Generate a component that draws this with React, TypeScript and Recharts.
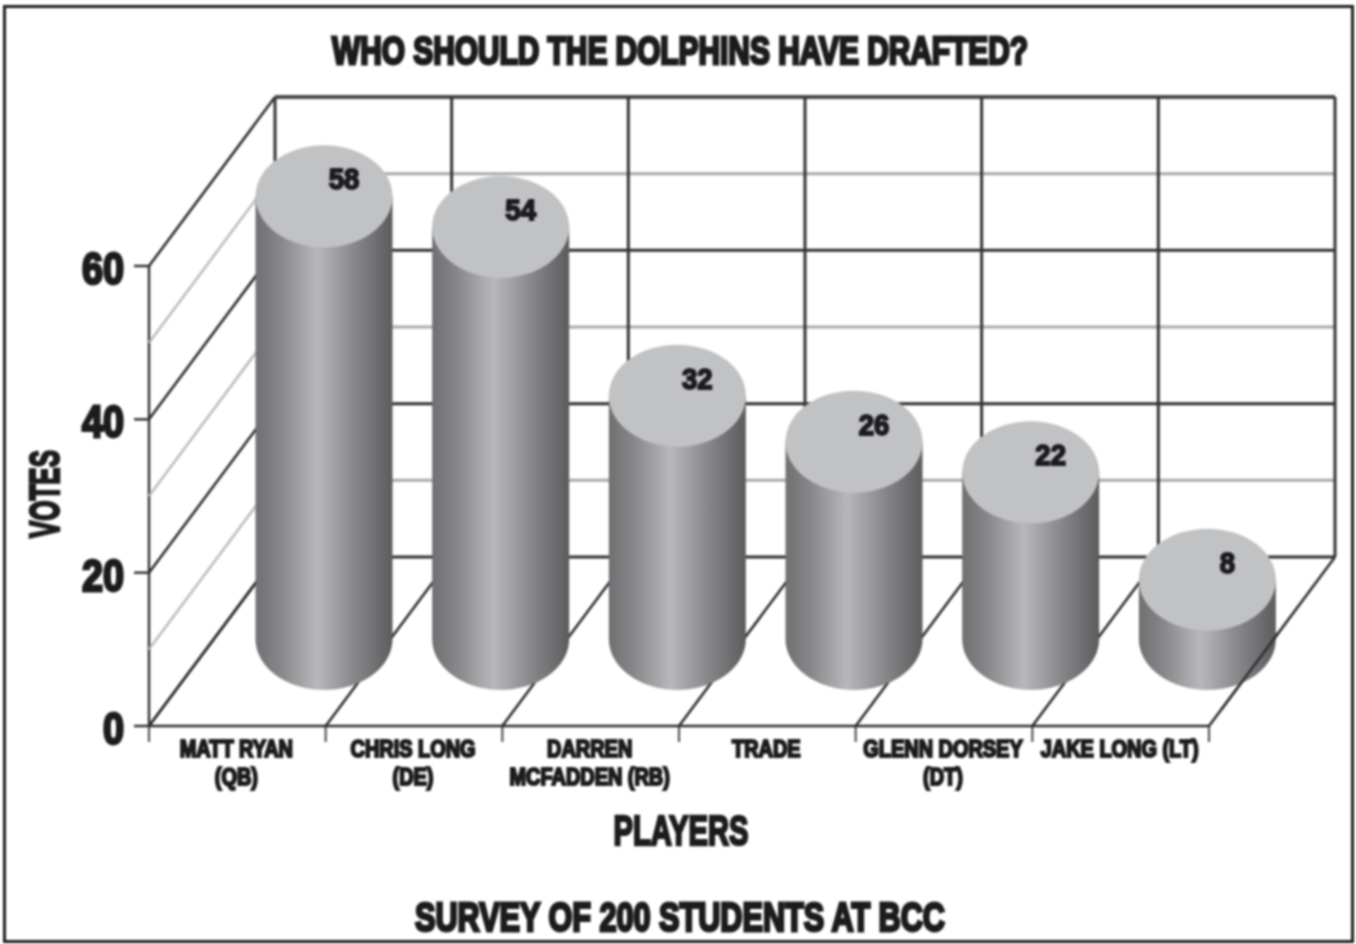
import React from "react";
import { BarChart, Bar, XAxis, YAxis, LabelList, CartesianGrid } from "recharts";

const categories = ["MATT RYAN\n(QB)", "CHRIS LONG\n(DE)", "DARREN\nMCFADDEN (RB)", "TRADE", "GLENN DORSEY\n(DT)", "JAKE LONG (LT)"];
const votes = [58, 54, 32, 26, 22, 8];
const yTicks = [0, 10, 20, 30, 40, 50, 60];
const labelledTicks = [0, 20, 40, 60];
const chartTitle = "WHO SHOULD THE DOLPHINS HAVE DRAFTED?";
const footerText = "SURVEY OF 200 STUDENTS AT BCC";
const xTitle = "PLAYERS";
const yTitle = "VOTES";

const rows = categories.map((name, i) => ({ name, votes: votes[i] }));

const W = 1356, H = 944;
const LEFT = 149, RIGHT = 1209, TOP = 266, BOTTOM = 726;
const BAND = (RIGHT - LEFT) / categories.length;
const WALL_DX = 126, WALL_DY = -169;
const BAR_DX = 86.5, BAR_DY = -87, TOP_DY = -85, RY = 51;
const FONT = "'Liberation Sans', Arial, sans-serif";
const INK = "#1c1c1e";
const DARK = "#2e2e31";
const LIGHT = "#a9a9ab";
const boundaries = categories.map((_, i) => LEFT + BAND * i).concat(RIGHT);

const heavy = (size: number, stroke = 1.2) => ({
  fontFamily: FONT, fontWeight: 700, fontSize: size, fill: INK, stroke: INK, strokeWidth: stroke,
});

function WallRow(props: any) {
  const y = props.y1;
  const v = Math.round(((BOTTOM - y) / (BOTTOM - TOP)) * 60);
  const major = labelledTicks.includes(v);
  return (
    <g key={`row-${v}`}>
      <line x1={LEFT} y1={y} x2={LEFT + WALL_DX} y2={y + WALL_DY} stroke={major ? DARK : "#bdbdbf"} strokeWidth={2.6} />
      <line x1={LEFT + WALL_DX} y1={y + WALL_DY} x2={RIGHT + WALL_DX} y2={y + WALL_DY} stroke={v === 60 ? "#4a4a4d" : major ? DARK : LIGHT} strokeWidth={v === 60 ? 4 : 3} />
      {v === 0 && <line x1={LEFT} y1={TOP} x2={LEFT} y2={BOTTOM} stroke={DARK} strokeWidth={2.4} />}
    </g>
  );
}

function WallColumn(props: any) {
  const bx = props.x1;
  return (
    <g key={`col-${Math.round(bx)}`}>
      <line x1={bx} y1={BOTTOM} x2={bx + WALL_DX} y2={BOTTOM + WALL_DY} stroke={DARK} strokeWidth={2.6} />
      <line x1={bx + WALL_DX} y1={TOP + WALL_DY} x2={bx + WALL_DX} y2={BOTTOM + WALL_DY} stroke="#333336" strokeWidth={3} />
      <line x1={bx} y1={BOTTOM} x2={bx} y2={BOTTOM + 16} stroke="#55555a" strokeWidth={2.2} />
    </g>
  );
}

function YTick(props: any) {
  const { y, payload } = props;
  const v = payload.value;
  if (!labelledTicks.includes(v)) return <g />;
  return (
    <g>
      <line x1={LEFT - 15} y1={y} x2={LEFT} y2={y} stroke={DARK} strokeWidth={2.4} />
      <text transform={`translate(124,${y + 18}) scale(0.86,1)`} textAnchor="end" {...heavy(44, 2.8)}>{v}</text>
    </g>
  );
}

function XTick(props: any) {
  const { x, payload } = props;
  const lines = String(payload.value).split("\n");
  return (
    <g>
      {lines.map((t, i) => (
        <text key={t} transform={`translate(${x - 1},${757 + i * 28}) scale(0.83,1)`} textAnchor="middle" {...heavy(24, 2.2)}>{t}</text>
      ))}
    </g>
  );
}

function Cylinder(props: any) {
  const { x, y, width, height, index } = props;
  const rx = width / 2;
  const cx = x + rx + BAR_DX;
  const topY = y + TOP_DY;
  const botY = y + height + BAR_DY;
  const d = `M${cx - rx},${topY} L${cx - rx},${botY} A${rx},${RY} 0 0 0 ${cx + rx},${botY} L${cx + rx},${topY} Z`;
  return (
    <g>
      <path d={d} fill="url(#cylinderShade)" />
      <ellipse cx={cx} cy={topY} rx={rx} ry={RY} fill="#c1c2c4" />
      {index === categories.length - 1 && (
        <line x1={RIGHT + 12} y1={BOTTOM - 16} x2={RIGHT + WALL_DX * 0.55} y2={BOTTOM + WALL_DY * 0.55} stroke={DARK} strokeWidth={2.4} />
      )}
    </g>
  );
}

function ValueLabel(props: any) {
  const { x, y, width, value } = props;
  return (
    <text transform={`translate(${x + width / 2 + BAR_DX + 20},${y + TOP_DY - 7}) scale(0.95,1)`} textAnchor="middle" {...heavy(29, 1.9)}>{value}</text>
  );
}

export default function App() {
  return (
    <div style={{ position: "absolute", left: 0, top: 0, width: W, height: H, background: "#fff", overflow: "hidden", filter: "blur(0.9px)" }}>
      <div style={{ position: "absolute", left: 3, top: 5, right: 2, bottom: 1, border: "3px solid #1f1f21" }} />
      <svg width={W} height={H} style={{ position: "absolute", left: 0, top: 0 }}>
        <text x={680} y={64} textAnchor="middle" textLength={696} lengthAdjust="spacingAndGlyphs" {...heavy(39, 3)}>{chartTitle}</text>
        <text x={680} y={931} textAnchor="middle" textLength={530} lengthAdjust="spacingAndGlyphs" {...heavy(41, 3)}>{footerText}</text>
        <text x={681} y={845} textAnchor="middle" textLength={135} lengthAdjust="spacingAndGlyphs" {...heavy(42, 2.6)}>{xTitle}</text>
        <text transform="translate(59,494) rotate(-90)" textAnchor="middle" textLength={88} lengthAdjust="spacingAndGlyphs" {...heavy(42, 2.6)}>{yTitle}</text>
      </svg>
      <div style={{ position: "absolute", left: 0, top: 0 }}>
        <BarChart
          width={W}
          height={H}
          data={rows}
          margin={{ top: TOP, right: W - RIGHT, bottom: H - BOTTOM - 80, left: 0 }}
          barSize={137}
        >
          <defs>
            <linearGradient id="cylinderShade" x1="0" y1="0" x2="1" y2="0">
              <stop offset="0" stopColor="#707073" />
              <stop offset="0.18" stopColor="#87878a" />
              <stop offset="0.45" stopColor="#b8b8ba" />
              <stop offset="0.72" stopColor="#88888b" />
              <stop offset="1" stopColor="#5c5c5f" />
            </linearGradient>
          </defs>
          <CartesianGrid
            horizontalValues={yTicks}
            verticalPoints={boundaries}
            horizontal={(p: any) => <WallRow {...p} />}
            vertical={(p: any) => <WallColumn {...p} />}
          />
          <XAxis
            dataKey="name"
            height={80}
            interval={0}
            tick={(p: any) => <XTick {...p} />}
            tickLine={false}
            axisLine={{ stroke: DARK, strokeWidth: 2.4 }}
          />
          <YAxis
            width={LEFT}
            domain={[0, 60]}
            ticks={yTicks}
            interval={0}
            tick={(p: any) => <YTick {...p} />}
            tickLine={false}
            axisLine={false}
          />
          <Bar dataKey="votes" isAnimationActive={false} shape={(p: any) => <Cylinder {...p} />}>
            <LabelList dataKey="votes" content={(p: any) => <ValueLabel {...p} />} />
          </Bar>
        </BarChart>
      </div>
    </div>
  );
}
